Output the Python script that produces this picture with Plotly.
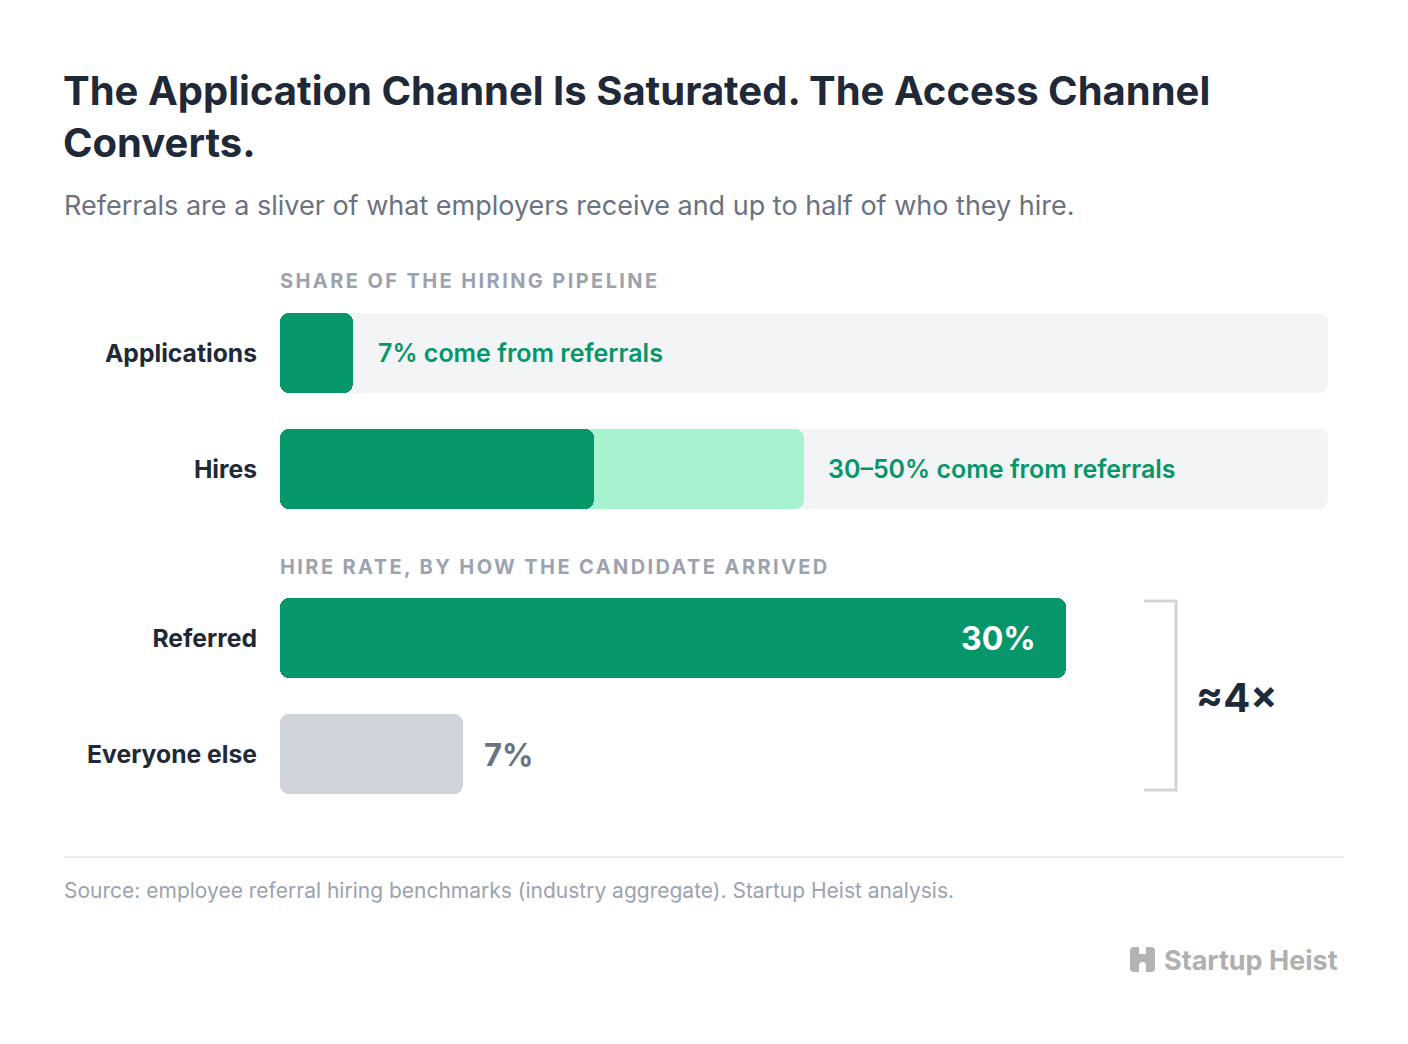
import plotly.graph_objects as go

# ---------------- data ----------------
pipeline_rows = ["Applications", "Hires"]
pipeline_total = [100, 100]
apps_referral_share = 7          # % of applications from referrals
hires_referral_low = 30          # % of hires from referrals (low end)
hires_referral_high = 50         # % of hires from referrals (high end)

rate_rows = ["Referred", "Everyone else"]
hire_rates = [30, 7]             # hire rate %
rate_axis_max = 40

title_text = "The Application Channel Is Saturated. The Access Channel<br>Converts."
subtitle_text = "Referrals are a sliver of what employers receive and up to half of who they hire."
section1 = "SHARE OF THE HIRING PIPELINE"
section2 = "HIRE RATE, BY HOW THE CANDIDATE ARRIVED"
source_text = "Source: employee referral hiring benchmarks (industry aggregate). Startup Heist analysis."

# ---------------- styling ----------------
W, H = 1408, 1044
FONT = "Inter"
DARK = "#1f2937"
GREEN = "#059669"
LIGHT_GREEN = "#a7f3d0"
TRACK = "#f3f4f6"
GRAY_BAR = "#d1d5db"
MUTED = "#6b7280"
LIGHT = "#9ca3af"


def px(x):
    return x / W


def py(y):
    return 1 - y / H


BAR_W = 80 / 116
RADIUS = 9

fig = go.Figure()


def rounded_bars(rows, values, colors, xa, ya):
    """Bars rounded on both ends: drawn as two overlapping halves,
    one growing right from the middle, one growing left from the middle."""
    mid_r = [v * 0.4 for v in values]
    len_r = [v * 0.6 for v in values]
    mid_l = [v * 0.6 for v in values]
    len_l = [-v * 0.6 for v in values]
    for base, length in [(mid_r, len_r), (mid_l, len_l)]:
        fig.add_trace(go.Bar(
            y=rows, x=length, base=base, orientation="h", width=BAR_W,
            marker=dict(color=colors, cornerradius=RADIUS, line=dict(width=0)),
            xaxis=xa, yaxis=ya, hoverinfo="skip", showlegend=False))


# pipeline tracks
rounded_bars(pipeline_rows, pipeline_total, TRACK, "x", "y")
# hires high end
rounded_bars([pipeline_rows[1]], [hires_referral_high], LIGHT_GREEN, "x", "y")
# referral shares (solid)
rounded_bars(pipeline_rows, [apps_referral_share, hires_referral_low], GREEN, "x", "y")
# hire rates
rounded_bars(rate_rows, hire_rates, [GREEN, GRAY_BAR], "x2", "y2")

x_dom = [px(280), px(1328)]
ytick = dict(family=FONT, size=24.7, color=DARK, weight=700)

fig.update_layout(
    width=W, height=H,
    margin=dict(l=0, r=0, t=0, b=0),
    paper_bgcolor="white", plot_bgcolor="rgba(0,0,0,0)",
    barmode="overlay", bargap=0,
    xaxis=dict(domain=x_dom, range=[0, 100], showgrid=False, zeroline=False,
               showticklabels=False, fixedrange=True, anchor="y"),
    yaxis=dict(domain=[py(527), py(295)], range=[1.5, -0.5], type="category",
               categoryorder="array", categoryarray=pipeline_rows,
               showgrid=False, zeroline=False, showline=False, ticks="",
               tickfont=ytick, ticklabelstandoff=22, anchor="x"),
    xaxis2=dict(domain=x_dom, range=[0, rate_axis_max], showgrid=False, zeroline=False,
                showticklabels=False, fixedrange=True, anchor="y2"),
    yaxis2=dict(domain=[py(812), py(580)], range=[1.5, -0.5], type="category",
                categoryorder="array", categoryarray=rate_rows,
                showgrid=False, zeroline=False, showline=False, ticks="",
                tickfont=ytick, ticklabelstandoff=22, anchor="x2"),
    font=dict(family=FONT),
)

ann = []
# title
ann.append(dict(xref="paper", yref="paper", x=px(64), y=py(116), xanchor="left", yanchor="middle",
                xshift=-3, text=title_text, showarrow=False, align="left",
                font=dict(family=FONT, size=40, color=DARK, weight=700)))
ann.append(dict(xref="paper", yref="paper", x=px(64), y=py(205), xanchor="left", yanchor="middle",
                xshift=-2, text=subtitle_text, showarrow=False, align="left",
                font=dict(family=FONT, size=27, color=MUTED)))
# section labels
for txt, yy in [(section1, 281), (section2, 567)]:
    ann.append(dict(xref="paper", yref="paper", x=px(280), y=py(yy), xanchor="left", yanchor="middle",
                    xshift=-2, text=f'<span style="letter-spacing:2.4px">{txt}</span>', showarrow=False,
                    font=dict(family=FONT, size=20, color=LIGHT, weight=700)))
# value labels
ann.append(dict(xref="x", yref="y", x=apps_referral_share, y=pipeline_rows[0], xanchor="left",
                yanchor="middle", xshift=23, showarrow=False,
                text=f"{apps_referral_share}% come from referrals",
                font=dict(family=FONT, size=25, color=GREEN, weight=600)))
ann.append(dict(xref="x", yref="y", x=hires_referral_high, y=pipeline_rows[1], xanchor="left",
                yanchor="middle", xshift=22, showarrow=False,
                text=f"{hires_referral_low}–{hires_referral_high}% come from referrals",
                font=dict(family=FONT, size=25, color=GREEN, weight=600)))
ann.append(dict(xref="x2", yref="y2", x=hire_rates[0], y=rate_rows[0], xanchor="right",
                yanchor="middle", xshift=-28, showarrow=False,
                text=f"{hire_rates[0]}%",
                font=dict(family=FONT, size=32, color="white", weight=700)))
ann.append(dict(xref="x2", yref="y2", x=hire_rates[1], y=rate_rows[1], xanchor="left",
                yanchor="middle", xshift=19, showarrow=False,
                text=f"{hire_rates[1]}%",
                font=dict(family=FONT, size=31, color=MUTED, weight=700)))
ann.append(dict(xref="paper", yref="paper", x=px(1194), y=py(697), xanchor="left", yanchor="middle",
                text=f"≈{round(hire_rates[0] / hire_rates[1])}×", showarrow=False,
                font=dict(family=FONT, size=40, color=DARK, weight=700)))
# source
ann.append(dict(xref="paper", yref="paper", x=px(64), y=py(890), xanchor="left", yanchor="middle",
                xshift=-2, text=source_text, showarrow=False,
                font=dict(family=FONT, size=21, color=LIGHT)))
# logo text
ann.append(dict(xref="paper", yref="paper", x=px(1162), y=py(960), xanchor="left", yanchor="middle",
                text="Startup Heist", showarrow=False,
                font=dict(family=FONT, size=27, color="#b0b0b0", weight=700)))
fig.update_layout(annotations=ann)

shapes = []
# bracket
shapes.append(dict(type="path", xref="paper", yref="paper",
                   path=f"M {px(1144)},{py(601)} L {px(1176)},{py(601)} L {px(1176)},{py(790)} L {px(1144)},{py(790)}",
                   line=dict(color=GRAY_BAR, width=3)))
# divider
shapes.append(dict(type="line", xref="paper", yref="paper", x0=px(64), x1=px(1344), y0=py(857), y1=py(857),
                   line=dict(color="#e5e7eb", width=1.5)))
# logo icon
ic = "#b3b3b3"
x0, x1, y0, y1 = 1130, 1155, 947, 972
r = 4
icon_path = (f"M {px(x0 + r)},{py(y0)} L {px(x1 - r)},{py(y0)} Q {px(x1)},{py(y0)} {px(x1)},{py(y0 + r)} "
             f"L {px(x1)},{py(y1 - r)} Q {px(x1)},{py(y1)} {px(x1 - r)},{py(y1)} "
             f"L {px(x0 + r)},{py(y1)} Q {px(x0)},{py(y1)} {px(x0)},{py(y1 - r)} "
             f"L {px(x0)},{py(y0 + r)} Q {px(x0)},{py(y0)} {px(x0 + r)},{py(y0)} Z")
shapes.append(dict(type="path", xref="paper", yref="paper", path=icon_path,
                   fillcolor=ic, line=dict(width=0)))
# top notch
shapes.append(dict(type="rect", xref="paper", yref="paper", x0=px(1139), x1=px(1146), y0=py(947), y1=py(954),
                   fillcolor="white", line=dict(width=0)))
# bottom arch (door)
arch = (f"M {px(1139)},{py(972)} L {px(1139)},{py(966)} Q {px(1139)},{py(962)} {px(1142.5)},{py(962)} "
        f"Q {px(1146)},{py(962)} {px(1146)},{py(966)} L {px(1146)},{py(972)} Z")
shapes.append(dict(type="path", xref="paper", yref="paper", path=arch,
                   fillcolor="white", line=dict(width=0)))
fig.update_layout(shapes=shapes)

fig.write_html("out.html", config={"displayModeBar": False})
